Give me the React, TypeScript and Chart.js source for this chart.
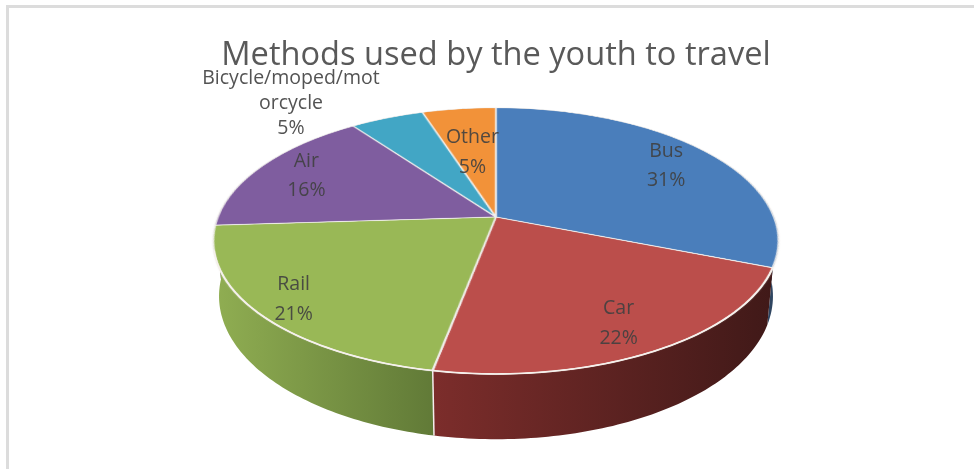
import React, { useEffect, useRef } from "react";
import { Chart, registerables } from "chart.js";

Chart.register(...registerables);

const titleText = "Methods used by the youth to travel";
const categories = ["Bus", "Car", "Rail", "Air", "Bicycle/moped/motorcycle", "Other"];
const categoryLines = [["Bus"], ["Car"], ["Rail"], ["Air"], ["Bicycle/moped/mot", "orcycle"], ["Other"]];
const shareValues = [31, 22, 21, 16, 5, 5];
const faceColors = ["#4a7ebb", "#bb4e4b", "#99b856", "#7f5d9f", "#42a6c5", "#f29239"];
const wallStops = [
  ["#33506f", "#2f4560"],
  ["#7c2d2b", "#401918"],
  ["#90ae52", "#617a37"],
  ["#5d4475", "#5d4475"],
  ["#2f7a90", "#2f7a90"],
  ["#b26b2a", "#b26b2a"],
];

// Perspective view of the flat pie
const VIEW = { cx: 496, cy: 217, rx: 278, ry: 128.7, k: 0.18, depth: 53.5, shrink: 0.98 };
const LABEL_RADIUS = [0.8, 0.8, 0.87, 0.8, 0, 0.6];
const LABEL_DY = [2.5, 3, 0, 0, 1, 4.5];
const OUTSIDE_LABEL = { x: 291, y: 102 };

function project(theta: number, fr: number) {
  const u = fr * Math.cos(theta);
  const t = 1 / (1 + VIEW.k * u);
  return {
    x: VIEW.cx + VIEW.rx * fr * Math.sin(theta) * t,
    y: VIEW.cy - VIEW.ry * u * t,
    t,
  };
}

function bottomRim(theta: number) {
  const p = project(theta, 1);
  return {
    x: VIEW.cx + (p.x - VIEW.cx) * VIEW.shrink,
    y: p.y + VIEW.depth * p.t,
  };
}

const perspectivePie = {
  id: "perspectivePie",
  beforeDatasetsDraw(chart: any) {
    const ctx = chart.ctx as CanvasRenderingContext2D;
    const arcs = chart.getDatasetMeta(0).data as any[];
    const angle = (a: number) => a + Math.PI / 2;

    // side wall of every slice, back ones first
    const order = arcs
      .map((_, i) => i)
      .sort((a, b) => {
        const ma = Math.cos((angle(arcs[a].startAngle) + angle(arcs[a].endAngle)) / 2);
        const mb = Math.cos((angle(arcs[b].startAngle) + angle(arcs[b].endAngle)) / 2);
        return mb - ma;
      });
    for (const i of order) {
      const arc = arcs[i];
      const a0 = angle(arc.startAngle);
      const a1 = angle(arc.endAngle);
      const steps = 80;
      const top: any[] = [];
      const bot: any[] = [];
      for (let s = 0; s <= steps; s++) {
        const th = a0 + ((a1 - a0) * s) / steps;
        top.push(project(th, 1));
        bot.push(bottomRim(th));
      }
      const xs = top.concat(bot).map((p) => p.x);
      const minX = Math.min(...xs);
      const maxX = Math.max(...xs);
      const g = ctx.createLinearGradient(minX, 0, maxX, 0);
      const stops = wallStops[i];
      g.addColorStop(0, stops[0]);
      g.addColorStop(1, stops[1]);
      ctx.beginPath();
      top.forEach((p, n) => (n ? ctx.lineTo(p.x, p.y) : ctx.moveTo(p.x, p.y)));
      bot.reverse().forEach((p) => ctx.lineTo(p.x, p.y));
      ctx.closePath();
      ctx.fillStyle = g;
      ctx.fill();
    }
    // pale seam between the front walls
    const seam = angle(arcs[1].endAngle);
    const s0 = project(seam, 1);
    const s1 = bottomRim(seam);
    ctx.beginPath();
    ctx.moveTo(s0.x, s0.y);
    ctx.lineTo(s1.x, s1.y);
    ctx.strokeStyle = "#f4eeee";
    ctx.lineWidth = 1.5;
    ctx.stroke();

    // flat pie, drawn by the arc elements, then mapped row by row
    const R = arcs[0].outerRadius;
    const f = 3;
    const off = document.createElement("canvas");
    off.width = Math.ceil(2 * (R + 2) * f);
    off.height = off.width;
    const oc = off.getContext("2d") as CanvasRenderingContext2D;
    oc.setTransform(f, 0, 0, f, -(arcs[0].x - R - 2) * f, -(arcs[0].y - R - 2) * f);
    arcs.forEach((a) => a.draw(oc));
    const srcY = (u: number) => (R + 2 - u * R) * f;
    const uOf = (Y: number) => {
      const v = -(Y - VIEW.cy) / VIEW.ry;
      return v / (1 - VIEW.k * v);
    };
    ctx.imageSmoothingEnabled = true;
    ctx.imageSmoothingQuality = "high";
    for (let Y = 100; Y < 385; Y++) {
      const u0 = uOf(Y);
      const u1 = uOf(Y + 1);
      if (u1 > 1.02 || u0 < -1.02) continue;
      const t = 1 / (1 + VIEW.k * uOf(Y + 0.5));
      const hw = (VIEW.rx * t * (R + 2)) / R;
      const sy = srcY(u0);
      const sh = Math.max(0.5, srcY(u1) - sy);
      ctx.drawImage(off, 0, sy, off.width, sh, VIEW.cx - hw, Y, 2 * hw, 1);
    }

    // bright front rim
    ctx.beginPath();
    const rimFrom = Math.PI * 0.62;
    const rimTo = Math.PI * 1.42;
    for (let s = 0; s <= 120; s++) {
      const p = project(rimFrom + ((rimTo - rimFrom) * s) / 120, 1);
      if (s) ctx.lineTo(p.x, p.y);
      else ctx.moveTo(p.x, p.y);
    }
    ctx.strokeStyle = "#f6f1ec";
    ctx.lineWidth = 1.6;
    ctx.stroke();
    return false;
  },
  afterDraw(chart: any) {
    const ctx = chart.ctx as CanvasRenderingContext2D;
    const arcs = chart.getDatasetMeta(0).data as any[];
    ctx.save();
    ctx.font = '19.5px "Open Sans"';
    ctx.textAlign = "center";
    ctx.textBaseline = "middle";
    arcs.forEach((arc, i) => {
      const lines = [...categoryLines[i], `${shareValues[i]}%`];
      const mid = (arc.startAngle + arc.endAngle) / 2 + Math.PI / 2;
      const pos = LABEL_RADIUS[i] ? project(mid, LABEL_RADIUS[i]) : OUTSIDE_LABEL;
      const lh = i === 4 ? 25 : 29.5;
      ctx.fillStyle = "rgba(64,64,64,0.9)";
      lines.forEach((line, n) => {
        ctx.fillText(line, pos.x, pos.y + LABEL_DY[i] + (n - (lines.length - 1) / 2) * lh);
      });
    });
    ctx.restore();
  },
};

export default function App() {
  const ref = useRef<HTMLCanvasElement>(null);
  useEffect(() => {
    const chart = new Chart(ref.current as HTMLCanvasElement, {
      type: "doughnut",
      data: {
        labels: categories,
        datasets: [
          {
            data: shareValues,
            backgroundColor: faceColors,
            borderColor: "#f3f1ef",
            borderWidth: 1,
            clip: false,
          } as any,
        ],
      },
      options: {
        responsive: false,
        animation: false,
        cutout: 0,
        layout: { padding: { left: 18, right: 0, top: 0, bottom: 106 } },
        plugins: {
          legend: { display: false },
          tooltip: { enabled: false },
          title: {
            display: true,
            text: titleText,
            color: "#595959",
            font: { family: '"Open Sans"', size: 32.6, weight: "normal" },
            padding: { top: 36, bottom: 0 },
          },
        },
      } as any,
      plugins: [perspectivePie as any],
    });
    return () => chart.destroy();
  }, []);
  return (
    <div style={{ position: "absolute", left: 0, top: 0, width: 974, height: 469, background: "#fff", overflow: "hidden" }}>
      <div
        style={{
          position: "absolute",
          left: 6,
          top: 5,
          width: 968,
          height: 464,
          boxSizing: "border-box",
          borderLeft: "3px solid #dcdcdc",
          borderTop: "3px solid #dcdcdc",
        }}
      />
      <canvas ref={ref} width={974} height={469} style={{ position: "absolute", left: 0, top: 0, display: "block" }} />
    </div>
  );
}
